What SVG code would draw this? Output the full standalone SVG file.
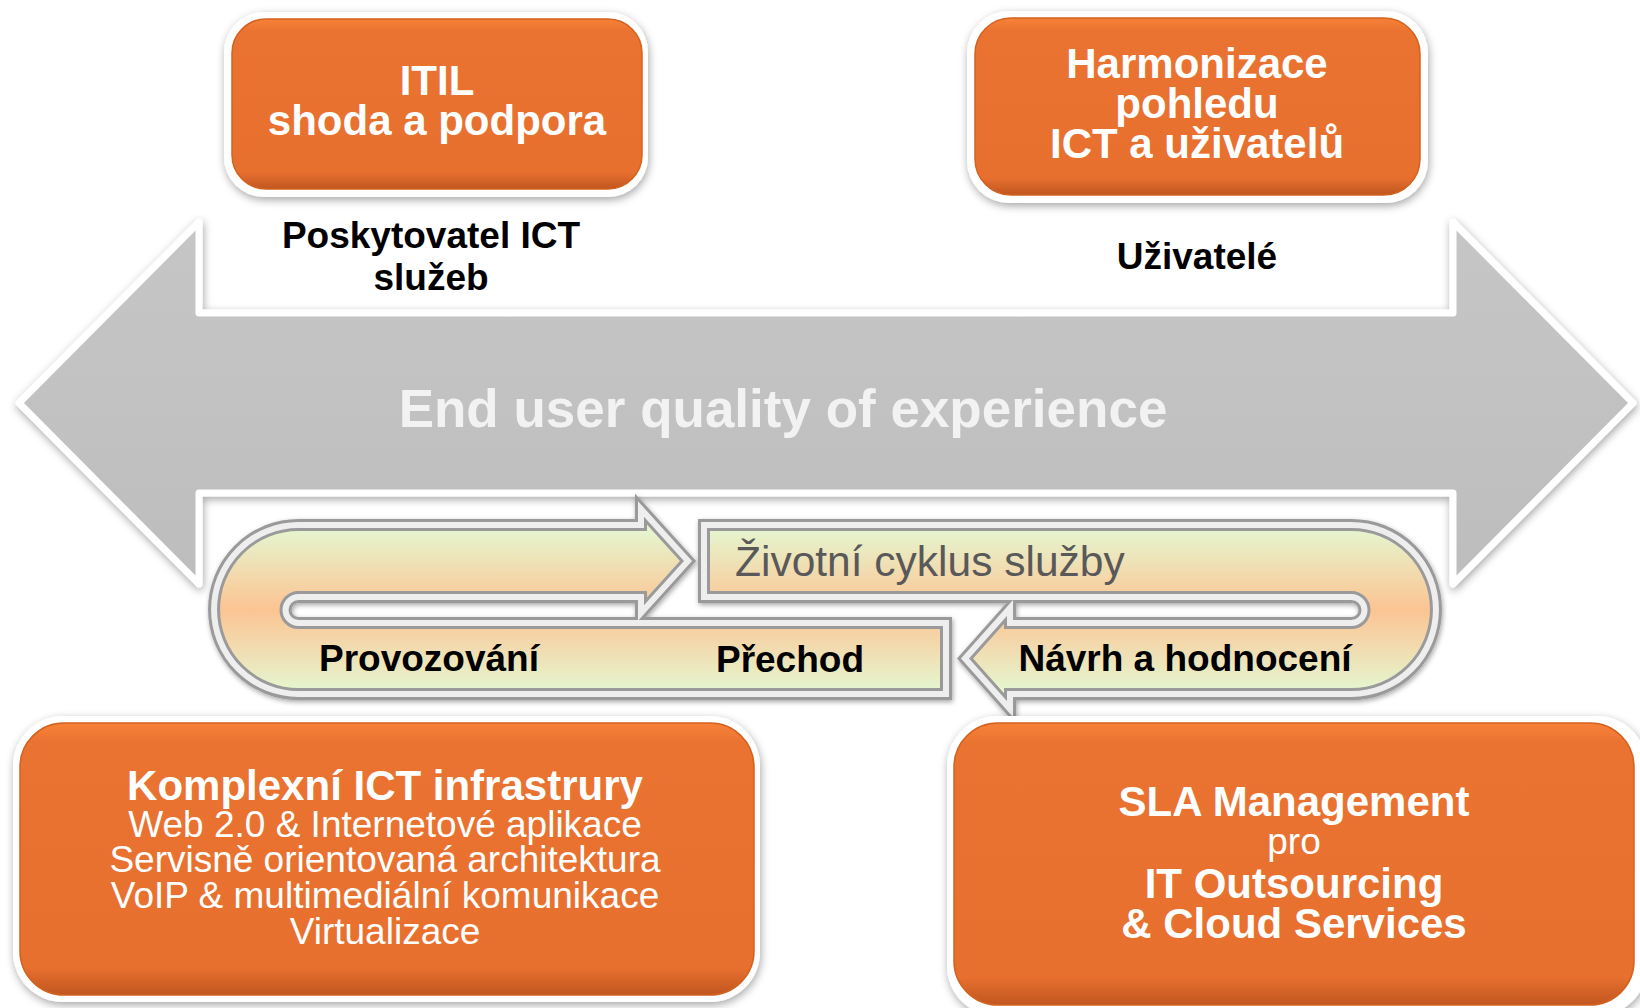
<svg xmlns="http://www.w3.org/2000/svg" xmlns:xlink="http://www.w3.org/1999/xlink" width="1640" height="1008" viewBox="0 0 1640 1008">
<style>
.tb{font-family:"Liberation Sans",Arial,sans-serif;font-weight:bold;fill:#ffffff;font-size:42px;text-anchor:middle}
.tr{font-family:"Liberation Sans",Arial,sans-serif;fill:#ffffff;font-size:37px;text-anchor:middle}
.tl{font-family:"Liberation Sans",Arial,sans-serif;font-weight:bold;fill:#000000;font-size:37px;text-anchor:middle}
.tm{font-family:"Liberation Sans",Arial,sans-serif;font-weight:bold;fill:#f2f2f2;font-size:53px;text-anchor:middle}
.tc{font-family:"Liberation Sans",Arial,sans-serif;fill:#595959;font-size:42.5px}
.frame{fill:#ffffff;filter:url(#sh)}
.orange{fill:url(#og);stroke:#d2621f;stroke-width:1.5}
.cycA{fill:url(#cg);stroke:#9a9a9a;stroke-width:12;stroke-linejoin:miter;filter:url(#sh2)}
.cycB{fill:none;stroke:#eeeeee;stroke-width:6;stroke-linejoin:miter}
</style>
<defs>
<filter id="sh" x="-10%" y="-10%" width="120%" height="125%">
<feDropShadow dx="1" dy="3" stdDeviation="4" flood-color="#000000" flood-opacity="0.35"/>
</filter>
<filter id="sh2" x="-10%" y="-20%" width="120%" height="140%">
<feDropShadow dx="1" dy="2" stdDeviation="2.5" flood-color="#000000" flood-opacity="0.35"/>
</filter>
<linearGradient id="og" x1="0" y1="0" x2="0" y2="1">
<stop offset="0" stop-color="#f88138"/>
<stop offset="0.07" stop-color="#ea7331"/>
<stop offset="0.9" stop-color="#e8702f"/>
<stop offset="1" stop-color="#c0561f"/>
</linearGradient>
<linearGradient id="cg" gradientUnits="userSpaceOnUse" x1="0" y1="525" x2="0" y2="694">
<stop offset="0" stop-color="#e4f8d2"/>
<stop offset="0.5" stop-color="#fcc493"/>
<stop offset="1" stop-color="#e4f8d2"/>
</linearGradient>
<linearGradient id="ag" x1="0" y1="0" x2="0" y2="1">
<stop offset="0" stop-color="#c6c6c6"/>
<stop offset="1" stop-color="#bdbdbd"/>
</linearGradient>
<path id="arr1" d="M 946 694 L 946 623 L 298.5 623 A 13 13 0 0 1 298.5 597 L 641 597 L 641 613 L 688 561 L 641 509 L 641 525 L 298.5 525 A 84.5 84.5 0 0 0 298.5 694 Z"/>
<path id="arr2" d="M 704 525 L 1351.5 525 A 84.5 84.5 0 0 1 1351.5 694 L 1010 694 L 1010 709 L 965 658.5 L 1010 608 L 1010 623 L 1351.5 623 A 13 13 0 0 0 1351.5 597 L 704 597 Z"/>
</defs>
<rect x="0" y="0" width="1640" height="1008" fill="#ffffff"/>

<g id="connectors">
<g id="main-arrow">
<path d="M 19 403 L 199 222 L 199 313 L 1453 313 L 1453 222 L 1633 403 L 1453 584 L 1453 493 L 199 493 L 199 584 Z" fill="url(#ag)" stroke="#ffffff" stroke-width="7" stroke-linejoin="round" filter="url(#sh)"/>
<text class="tm" x="783" y="427">End user quality of experience</text>
</g>
<g id="lifecycle">
<use xlink:href="#arr1" class="cycA"/>
<use xlink:href="#arr1" class="cycB"/>
<use xlink:href="#arr2" class="cycA"/>
<use xlink:href="#arr2" class="cycB"/>
<text class="tc" x="735" y="576">Životní cyklus služby</text>
<text class="tl" x="429" y="671">Provozování</text>
<text class="tl" x="790" y="672">Přechod</text>
<text class="tl" x="1185" y="671">Návrh a hodnocení</text>
</g>
</g>

<g id="label-provider">
<text class="tl" x="431" y="248">Poskytovatel ICT</text>
<text class="tl" x="431" y="290">služeb</text>
</g>
<g id="label-users">
<text class="tl" x="1197" y="269">Uživatelé</text>
</g>

<g id="node-itil">
<rect class="frame" x="224" y="12" width="424" height="185" rx="40"/>
<rect class="orange" x="232" y="19" width="410" height="170" rx="34"/>
<text class="tb" x="437" y="95">ITIL</text>
<text class="tb" x="437" y="135">shoda a podpora</text>
</g>

<g id="node-harmonizace">
<rect class="frame" x="967" y="11" width="461" height="192" rx="42"/>
<rect class="orange" x="975" y="18" width="445" height="177" rx="36"/>
<text class="tb" x="1197" y="78">Harmonizace</text>
<text class="tb" x="1197" y="118">pohledu</text>
<text class="tb" x="1197" y="158">ICT a uživatelů</text>
</g>

<g id="node-infra">
<rect class="frame" x="13" y="716" width="747" height="286" rx="50"/>
<rect class="orange" x="20" y="723" width="734" height="272" rx="44"/>
<text class="tb" x="385" y="800">Komplexní ICT infrastrury</text>
<text class="tr" x="385" y="837">Web 2.0 &amp; Internetové aplikace</text>
<text class="tr" x="385" y="872">Servisně orientovaná architektura</text>
<text class="tr" x="385" y="908">VoIP &amp; multimediální komunikace</text>
<text class="tr" x="385" y="944">Virtualizace</text>
</g>

<g id="node-sla">
<rect class="frame" x="947" y="716" width="700" height="300" rx="50"/>
<rect class="orange" x="954" y="723" width="680" height="282" rx="44"/>
<text class="tb" x="1294" y="816">SLA Management</text>
<text class="tr" x="1294" y="854">pro</text>
<text class="tb" x="1294" y="898">IT Outsourcing</text>
<text class="tb" x="1294" y="938">&amp; Cloud Services</text>
</g>
</svg>
